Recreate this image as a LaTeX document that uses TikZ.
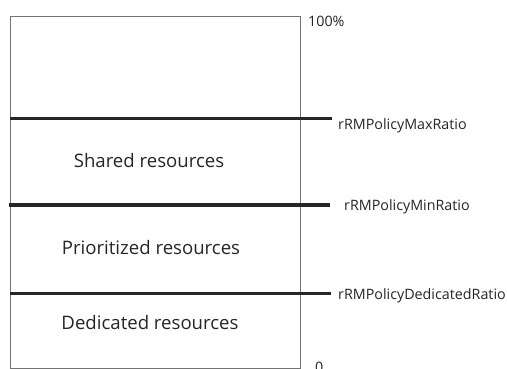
\documentclass[tikz,border=0pt]{standalone}
\usepackage{fontspec}
\setmainfont{Open Sans}
\begin{document}
\begin{tikzpicture}[x=1pt,y=-1pt,
  boxline/.style={draw=black!55,line width=0.9pt},
  level/.style={draw=black!85,line width=3.6pt},
  seclabel/.style={font=\fontsize{18.6}{20}\selectfont,text=black!85,inner sep=0pt},
  ratiolabel/.style={font=\fontsize{14.3}{16}\selectfont,text=black!85,inner sep=0pt,anchor=west}]
\useasboundingbox (0,0) rectangle (507,369);
\fill[white] (0,0) rectangle (507,369);
\node[boxline,minimum width=290pt,minimum height=352pt,inner sep=0pt,anchor=north west] (box) at (10,16) {};
\coordinate (l1a) at (10,118.5); \coordinate (l1b) at (332,118.5);
\coordinate (l2a) at (9,205); \coordinate (l2b) at (330,205);
\coordinate (l3a) at (10,293.5); \coordinate (l3b) at (331,293.5);
\draw[level] (l1a) -- (l1b);
\draw[level] (l2a) -- (l2b);
\draw[level] (l3a) -- (l3b);
\node[seclabel] (shared) at (149,161) {Shared resources};
\node[seclabel] (prio) at (151,248) {Prioritized resources};
\node[seclabel] (ded) at (150,323) {Dedicated resources};
\node[ratiolabel] (top) at (308,21) {100\%};
\node[ratiolabel] (maxr) at (338,126) {rRMPolicyMaxRatio};
\node[ratiolabel] (minr) at (344,207) {rRMPolicyMinRatio};
\node[ratiolabel] (dedr) at (338,295.5) {rRMPolicyDedicatedRatio};
\node[ratiolabel] (zero) at (315,367) {0};
\end{tikzpicture}
\end{document}
